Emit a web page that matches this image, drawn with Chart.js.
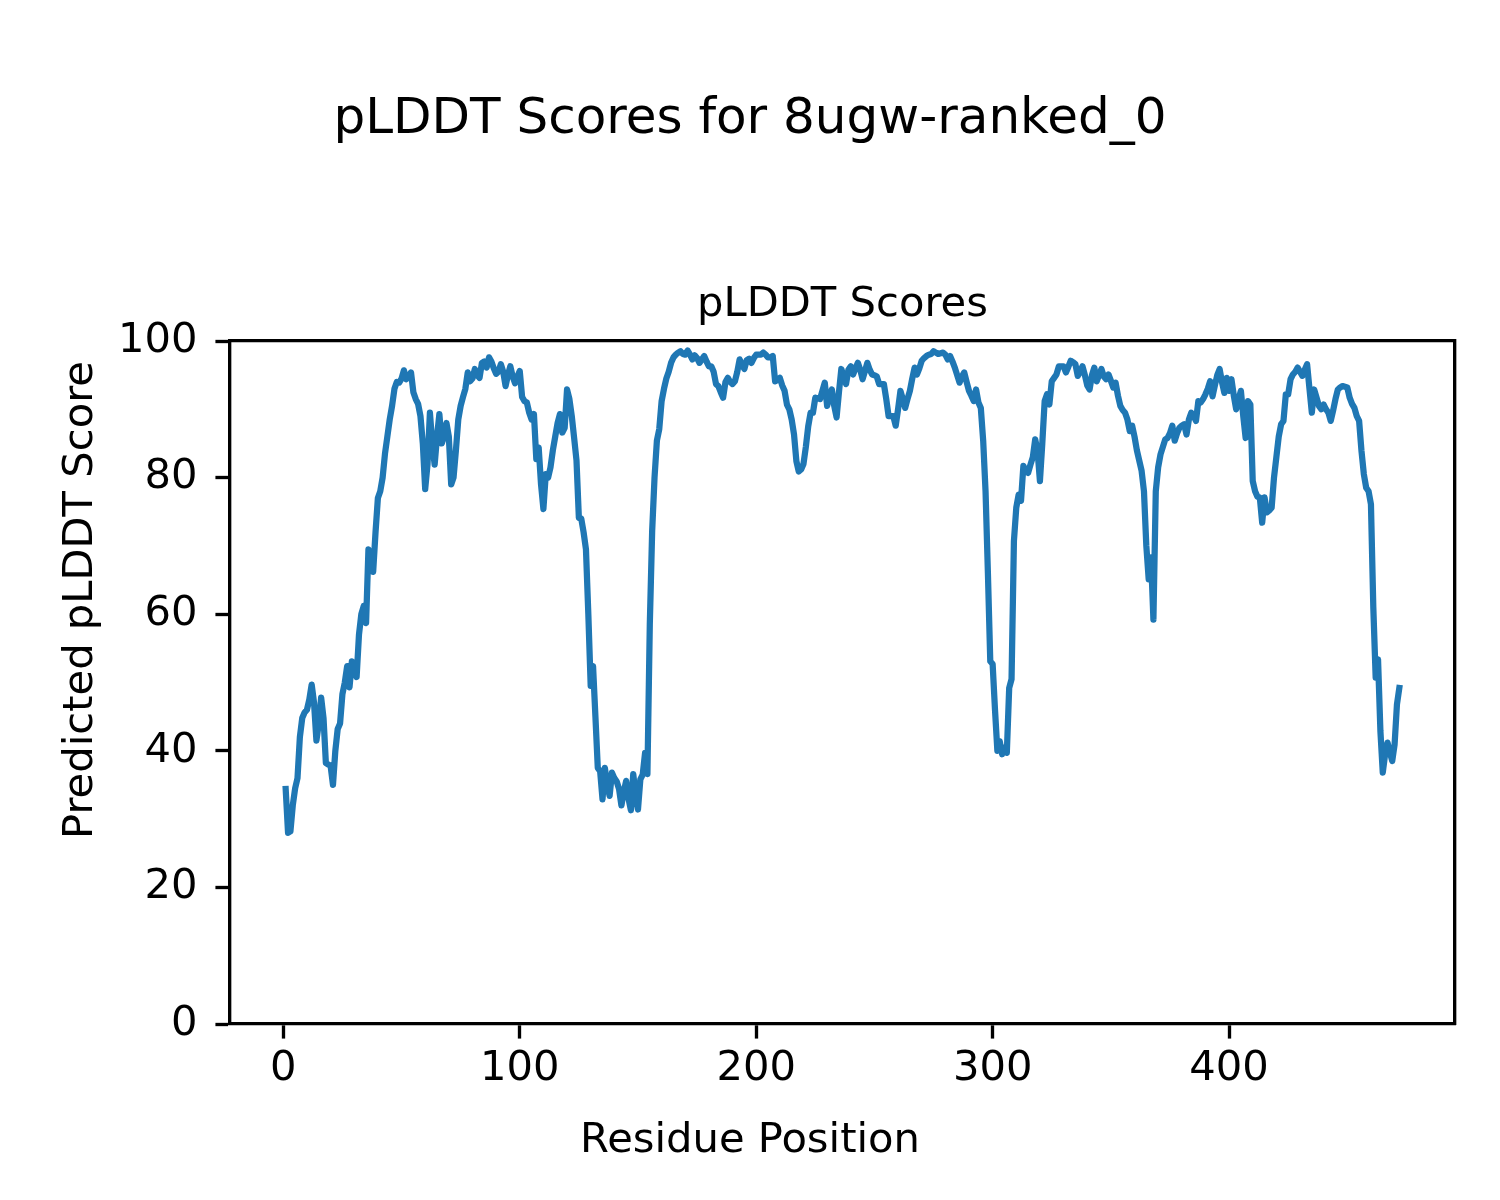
<!DOCTYPE html>
<html>
<head>
<meta charset="utf-8">
<title>pLDDT Scores for 8ugw-ranked_0</title>
<script src="https://cdn.jsdelivr.net/npm/chart.js@4/dist/chart.umd.min.js"></script>
<style>
  html, body { margin: 0; padding: 0; background: #fff; }
  #c { display: block; }
</style>
</head>
<body>
<canvas id="c" width="1500" height="1200"></canvas>
<script>
/* pLDDT per residue (residue 1 .. 472) */
const plddt = [
  34.4, 28.0, 28.2, 32.0, 34.5, 36.0, 42.0, 44.8, 45.6, 46.0,
  47.5, 49.7, 47.0, 41.5, 44.0, 47.8, 44.8, 38.2, 38.0, 37.8,
  35.0, 40.0, 43.2, 44.0, 48.3, 50.0, 52.4, 49.3, 53.1, 51.5,
  50.8, 57.0, 60.0, 61.2, 58.7, 69.5, 68.0, 66.2, 72.0, 77.0,
  78.0, 80.0, 83.5, 86.0, 88.5, 90.5, 93.0, 94.0, 93.9, 94.5,
  95.7, 94.4, 94.8, 95.4, 92.5, 91.5, 90.8, 89.0, 85.0, 78.3,
  82.0, 89.5, 85.0, 81.9, 86.0, 89.3, 85.0, 86.0, 88.0, 86.0,
  79.0, 80.0, 84.0, 88.5, 90.5, 91.8, 93.0, 95.4, 94.1, 94.5,
  95.9, 95.0, 94.6, 96.8, 97.0, 96.1, 97.6, 97.0, 96.0, 95.2,
  95.5, 96.6, 95.5, 93.4, 95.0, 96.3, 94.8, 93.8, 94.8, 95.6,
  91.8, 91.2, 91.0, 89.5, 88.5, 89.3, 82.7, 84.4, 79.0, 75.4,
  80.5, 80.0, 81.5, 84.0, 86.0, 88.0, 89.3, 86.6, 87.3, 92.9,
  91.5, 89.0, 85.8, 82.5, 74.1, 74.0, 72.0, 69.5, 60.0, 49.5,
  52.4, 45.0, 37.5, 37.0, 32.9, 37.5, 35.0, 33.4, 36.8, 36.0,
  35.5, 34.4, 32.0, 34.0, 35.6, 33.0, 31.3, 36.6, 33.5, 31.4,
  35.8, 36.5, 39.7, 36.6, 58.5, 72.2, 80.0, 85.4, 87.1, 91.2,
  93.0, 94.5, 95.5, 96.8, 97.6, 98.0, 98.3, 98.5, 98.1, 98.0,
  98.6, 98.0, 97.3, 97.9, 97.5, 96.8, 97.3, 97.8, 97.0, 96.3,
  96.3, 95.5, 93.7, 93.4, 92.5, 91.7, 94.0, 94.6, 94.0, 93.7,
  94.1, 95.5, 97.3, 96.5, 95.9, 97.2, 97.4, 96.8, 97.5, 98.0,
  98.0, 98.0, 98.3, 98.0, 97.6, 97.6, 97.8, 94.1, 94.3, 94.6,
  93.5, 92.7, 90.7, 90.0, 88.5, 86.3, 82.4, 80.9, 81.2, 82.0,
  84.5, 87.5, 89.5, 89.5, 91.7, 91.6, 91.5, 92.7, 93.9, 90.5,
  91.8, 92.9, 90.5, 88.8, 92.5, 95.9, 94.8, 93.7, 95.8, 96.3,
  95.1, 96.0, 96.8, 95.8, 94.4, 95.6, 96.8, 95.8, 95.1, 95.0,
  94.8, 93.7, 93.7, 93.7, 91.5, 89.0, 89.0, 89.0, 87.6, 90.0,
  92.7, 91.5, 90.2, 91.5, 92.7, 94.5, 96.1, 95.1, 96.0, 97.1,
  97.5, 97.8, 98.0, 98.1, 98.5, 98.3, 98.1, 98.2, 98.3, 98.0,
  97.3, 97.8, 97.0, 96.1, 95.0, 93.9, 94.8, 95.4, 94.0, 92.7,
  92.0, 91.2, 92.9, 91.0, 90.2, 85.4, 78.0, 66.0, 53.1, 52.7,
  46.0, 40.0, 41.4, 39.5, 40.5, 39.7, 49.2, 50.5, 70.7, 75.6,
  77.5, 76.6, 81.7, 81.0, 80.7, 81.9, 83.0, 85.6, 83.9, 79.5,
  85.0, 91.2, 92.2, 90.7, 94.1, 94.6, 95.1, 96.3, 96.3, 96.3,
  95.4, 96.2, 97.1, 96.9, 96.6, 94.9, 95.5, 96.3, 95.0, 93.5,
  92.9, 95.0, 96.1, 94.1, 95.0, 95.9, 94.8, 94.4, 95.1, 94.2,
  93.2, 93.9, 92.0, 90.5, 89.9, 89.5, 88.5, 86.8, 87.6, 86.0,
  84.0, 82.5, 81.0, 78.0, 70.0, 65.1, 68.3, 59.2, 78.0, 81.5,
  83.4, 84.5, 85.6, 85.8, 86.5, 87.6, 85.4, 86.5, 87.3, 87.6,
  87.8, 86.3, 88.5, 89.5, 89.0, 88.3, 91.2, 91.0, 91.5, 92.2,
  93.0, 94.1, 91.9, 93.5, 95.0, 95.9, 94.0, 92.4, 94.6, 92.7,
  94.4, 92.0, 90.0, 91.5, 92.7, 89.0, 85.8, 91.2, 90.7, 79.5,
  78.0, 77.2, 77.1, 73.4, 77.1, 74.9, 75.2, 75.6, 80.0, 83.0,
  86.0, 87.8, 88.3, 92.2, 92.2, 94.4, 95.1, 95.5, 96.1, 95.5,
  94.9, 95.8, 96.6, 93.0, 89.5, 92.9, 91.7, 90.5, 90.0, 90.7,
  90.0, 89.5, 88.3, 89.8, 91.5, 92.9, 93.2, 93.4, 93.3, 93.2,
  91.7, 90.8, 90.2, 89.0, 88.3, 83.9, 80.5, 78.5, 78.0, 76.1,
  61.0, 50.7, 53.4, 42.9, 36.8, 39.5, 41.2, 39.8, 38.5, 40.9,
  46.8, 49.2
];
const residues = plddt.map((_, i) => i + 1);
const xTicks = [0, 100, 200, 300, 400];
const yTicks = [0, 20, 40, 60, 80, 100];

(function () {
  "use strict";
  const FONT = "'DejaVu Sans', sans-serif";
  const PX = 300 / 72;                  // figure was 300 dpi
  const INK = "#000";
  const tickFont = { family: FONT, size: 10 * PX, lineHeight: 1.2 };

  // matplotlib-style 5% margin on x
  const span = residues[residues.length - 1] - residues[0];
  const xMin = residues[0] - 0.05 * span;
  const xMax = residues[residues.length - 1] + 0.05 * span;

  const spine = { display: true, color: INK, width: 0.8 * PX };
  const tickGrid = { display: true, drawOnChartArea: false, drawTicks: true,
                     tickLength: 3.5 * PX, tickWidth: 0.8 * PX, tickColor: INK };
  const noGrid = { display: true, drawOnChartArea: false, drawTicks: false };
  const bare = { display: false };

  new Chart(document.getElementById("c"), {
    type: "line",
    data: {
      datasets: [{
        label: "pLDDT",
        xAxisID: "x", yAxisID: "y",
        data: residues.map((r, i) => ({ x: r, y: plddt[i] })),
        borderColor: "#1f77b4",
        borderWidth: 1.5 * PX,
        borderJoinStyle: "round",
        borderCapStyle: "square",
        pointRadius: 0,
        tension: 0,
        fill: false,
      }],
    },
    options: {
      responsive: false,
      devicePixelRatio: 1,
      animation: false,
      layout: { padding: 0 },
      plugins: {
        legend: { display: false },
        tooltip: { enabled: false },
        title: {
          display: true, text: "pLDDT Scores for 8ugw-ranked_0", color: INK,
          font: { family: FONT, size: 12 * PX, weight: "normal", lineHeight: 1.2 },
          padding: { top: 90, bottom: 0 },
        },
        subtitle: {
          display: true, text: "pLDDT Scores", color: INK, fullSize: false,
          font: { family: FONT, size: 10 * PX, weight: "normal", lineHeight: 1.2 },
          padding: { top: 130, bottom: 11 },
        },
      },
      scales: {
        x: {
          type: "linear", position: "bottom", min: xMin, max: xMax, weight: 0,
          afterBuildTicks: (s) => { s.ticks = xTicks.map((v) => ({ value: v })); },
          afterFit: (s) => { s.height = 90; },
          ticks: { color: INK, font: tickFont, padding: 6, maxRotation: 0 },
          grid: tickGrid, border: spine,
        },
        y: {
          type: "linear", position: "left", min: 0, max: 100, weight: 0,
          afterBuildTicks: (s) => { s.ticks = yTicks.map((v) => ({ value: v })); },
          afterFit: (s) => { s.width = 120; },
          ticks: { color: INK, font: tickFont, padding: 18 },
          grid: tickGrid, border: spine,
        },
        /* axis labels sit on full-size boxes so they centre on the figure, like matplotlib */
        xlab: {
          type: "linear", position: "bottom", fullSize: true, weight: 10,
          afterFit: (s) => { s.height = 86; },
          ticks: bare, grid: bare, border: bare,
          title: { display: true, text: "Residue Position", color: INK, font: tickFont,
                   padding: { top: 0, bottom: 34 } },
        },
        ylab: {
          type: "linear", position: "left", fullSize: true, weight: 10,
          afterFit: (s) => { s.width = 110; },
          ticks: bare, grid: bare, border: bare,
          title: { display: true, text: "Predicted pLDDT Score", color: INK, font: tickFont,
                   padding: { top: 56, bottom: 0 } },
        },
        /* spare axes: only their borders, to close the frame */
        top: {
          type: "linear", position: "top",
          afterFit: (s) => { s.height = 0; },
          ticks: bare, grid: noGrid, border: spine,
        },
        right: {
          type: "linear", position: "right",
          afterFit: (s) => { s.width = 45; },
          ticks: bare, grid: noGrid, border: spine,
        },
      },
    },
  });
})();
</script>
</body>
</html>
